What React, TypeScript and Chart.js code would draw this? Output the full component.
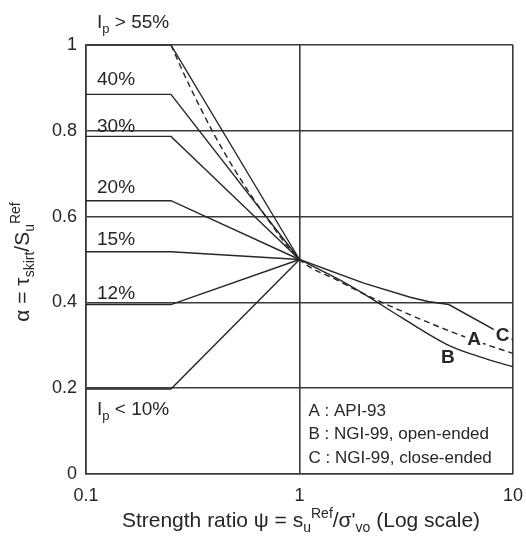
import React, { useEffect, useRef } from "react";
import { Chart, registerables } from "chart.js";
Chart.register(...registerables);

// ---- axes ----
const xTicks = [0.1, 1, 10];
const xTickLabels = ["0.1", "1", "10"];
const yTicks = [0, 0.2, 0.4, 0.6, 0.8, 1];
const yTickLabels = ["0", "0.2", "0.4", "0.6", "0.8", "1"];

// ---- plasticity-index lines (plateau then straight to pivot) ----
const ipNames = ["> 55%", "40%", "30%", "20%", "15%", "12%", "< 10%"];
const ipPlateau = [1.0, 0.885, 0.787, 0.637, 0.518, 0.395, 0.198];
const psiStart = 0.1;
const psiBreak = 0.25;
const psiPivot = 1;
const alphaPivot = 0.5;

// ---- design curves ----
const apiPsi = [0.25, 0.3, 0.4, 0.5, 0.7, 1, 1.5, 2, 3, 5, 7, 10];
const apiAlpha = [1.0, 0.913, 0.79, 0.707, 0.598, 0.5, 0.452, 0.42, 0.38, 0.334, 0.307, 0.281];
const ngiOpenPsi = [1, 1.55, 2, 3, 5, 7, 10];
const ngiOpenAlpha = [0.5, 0.452, 0.42, 0.365, 0.3, 0.273, 0.25];
const ngiClosedPsi = [1, 2, 3.3, 4, 5, 10];
const ngiClosedAlpha = [0.5, 0.445, 0.412, 0.402, 0.395, 0.312];

const legendLines = ["A : API-93", "B : NGI-99, open-ended", "C : NGI-99, close-ended"];

const FAMILY = '"Liberation Sans", Arial, Helvetica, sans-serif';
const TEXT = "#262626";
const LINE = "#262626";
const GRID = "#3a3a3a";

type Seg = { t: string; size: number; dy?: number; bold?: boolean };

function segWidth(ctx: CanvasRenderingContext2D, segs: Seg[]) {
  let w = 0;
  for (const s of segs) {
    ctx.font = `${s.bold ? "bold " : ""}${s.size}px ${FAMILY}`;
    w += ctx.measureText(s.t).width;
  }
  return w;
}
function drawRich(ctx: CanvasRenderingContext2D, x: number, y: number, segs: Seg[]) {
  let cx = x;
  for (const s of segs) {
    ctx.font = `${s.bold ? "bold " : ""}${s.size}px ${FAMILY}`;
    ctx.fillText(s.t, cx, y + (s.dy || 0));
    cx += ctx.measureText(s.t).width;
  }
}

const textPlugin = {
  id: "textPlugin",
  afterDraw(chart: any) {
    const ctx: CanvasRenderingContext2D = chart.ctx;
    const xs = chart.scales.x;
    const ys = chart.scales.y;
    const area = chart.chartArea;
    ctx.save();
    ctx.fillStyle = TEXT;
    ctx.textBaseline = "alphabetic";
    ctx.textAlign = "left";

    // Ip labels
    const lx = area.left + 11;
    const offs = [-17, -9, -4, -8, -7, -6, 26];
    ipNames.forEach((name, i) => {
      const y = ys.getPixelForValue(ipPlateau[i]) + offs[i];
      if (i === 0 || i === ipNames.length - 1) {
        drawRich(ctx, lx, y, [
          { t: "I", size: 19 },
          { t: "p", size: 13, dy: 5 },
          { t: " " + name, size: 19 },
        ]);
      } else {
        drawRich(ctx, lx, y, [{ t: name, size: 19 }]);
      }
    });

    // legend text in lower-right cell
    const gx = xs.getPixelForValue(1) + 9;
    const gBase = [416, 439, 463];
    legendLines.forEach((t, i) => drawRich(ctx, gx, gBase[i], [{ t, size: 17 }]));

    // curve letters
    const letters = [
      { t: "C", psi: 8.3, a: 0.31, bg: true },
      { t: "A", psi: 6.1, a: 0.3, bg: true },
      { t: "B", psi: 4.6, a: 0.258, bg: false },
    ];
    ctx.font = `bold 19px ${FAMILY}`;
    letters.forEach((l) => {
      const px = xs.getPixelForValue(l.psi);
      const py = ys.getPixelForValue(l.a);
      const w = ctx.measureText(l.t).width;
      if (l.bg) {
        ctx.fillStyle = "#ffffff";
        ctx.fillRect(px - 2, py - 15, w + 4, 16);
      }
      ctx.fillStyle = TEXT;
      ctx.fillText(l.t, px, py);
    });

    // x title
    const xt: Seg[] = [
      { t: "Strength ratio \u03c8 = s", size: 21 },
      { t: "u", size: 14, dy: 5 },
      { t: "Ref", size: 14, dy: -9 },
      { t: "/\u03c3'", size: 21 },
      { t: "vo", size: 14, dy: 5 },
      { t: " (Log scale)", size: 21 },
    ];
    const xw = segWidth(ctx, xt);
    drawRich(ctx, 301 - xw / 2, 527, xt);

    // y title (rotated)
    const yt: Seg[] = [
      { t: "\u03b1 = \u03c4", size: 21 },
      { t: "skirt", size: 14, dy: 5 },
      { t: "/S", size: 21 },
      { t: "u", size: 14, dy: 5 },
      { t: "Ref", size: 14, dy: -9 },
    ];
    const yw = segWidth(ctx, yt);
    ctx.translate(29, 262);
    ctx.rotate(-Math.PI / 2);
    drawRich(ctx, -yw / 2, 0, yt);
    ctx.restore();
  },
};

export default function App() {
  const ref = useRef<HTMLCanvasElement | null>(null);
  useEffect(() => {
    if (!ref.current) return;
    const base = { borderColor: LINE, borderWidth: 1.4, pointRadius: 0, fill: false, tension: 0 };
    const datasets: any[] = ipPlateau.map((v, i) => ({
      ...base,
      label: ipNames[i],
      data: [
        { x: psiStart, y: v },
        { x: psiBreak, y: v },
        { x: psiPivot, y: alphaPivot },
      ],
    }));
    datasets.push({
      ...base,
      label: "A",
      borderDash: [6, 4],
      cubicInterpolationMode: "monotone",
      data: apiPsi.map((x, i) => ({ x, y: apiAlpha[i] })),
    });
    datasets.push({
      ...base,
      label: "B",
      cubicInterpolationMode: "monotone",
      data: ngiOpenPsi.map((x, i) => ({ x, y: ngiOpenAlpha[i] })),
    });
    datasets.push({
      ...base,
      label: "C",
      data: ngiClosedPsi.map((x, i) => ({ x, y: ngiClosedAlpha[i] })),
    });

    const tickFont = { size: 18, family: FAMILY };
    const chart = new Chart(ref.current, {
      type: "line",
      data: { datasets },
      options: {
        animation: false,
        responsive: false,
        events: [],
        layout: { padding: { top: 45, right: 13, left: 0, bottom: 0 } },
        plugins: { legend: { display: false }, tooltip: { enabled: false } },
        scales: {
          x: {
            type: "logarithmic",
            min: 0.1,
            max: 10,
            afterBuildTicks: (s: any) => {
              s.ticks = xTicks.map((v) => ({ value: v }));
            },
            afterFit: (s: any) => {
              s.height = 68;
              s.paddingLeft = 0;
              s.paddingRight = 0;
            },
            ticks: {
              autoSkip: false,
              maxRotation: 0,
              padding: 11,
              color: TEXT,
              font: tickFont,
              callback: (v: any) => {
                const i = xTicks.indexOf(Number(v));
                return i >= 0 ? xTickLabels[i] : "";
              },
            },
            grid: { color: GRID, lineWidth: 1.6, drawTicks: false },
            border: { color: GRID, width: 1.6 },
          },
          y: {
            type: "linear",
            min: 0,
            max: 1,
            afterBuildTicks: (s: any) => {
              s.ticks = yTicks.map((v) => ({ value: v }));
            },
            afterFit: (s: any) => {
              s.width = 86;
              s.paddingTop = 0;
              s.paddingBottom = 0;
            },
            ticks: {
              padding: 9,
              color: TEXT,
              font: tickFont,
              callback: (v: any) => {
                const i = yTicks.findIndex((t) => Math.abs(t - Number(v)) < 1e-9);
                return i >= 0 ? yTickLabels[i] : "";
              },
            },
            grid: { color: GRID, lineWidth: 1.6, drawTicks: false },
            border: { color: GRID, width: 1.6 },
          },
        },
      } as any,
      plugins: [textPlugin],
    });
    return () => chart.destroy();
  }, []);
  return (
    <div style={{ position: "absolute", left: 0, top: 0, width: 526, height: 542, background: "#fff" }}>
      <canvas ref={ref} width={526} height={542} style={{ display: "block" }} />
    </div>
  );
}
